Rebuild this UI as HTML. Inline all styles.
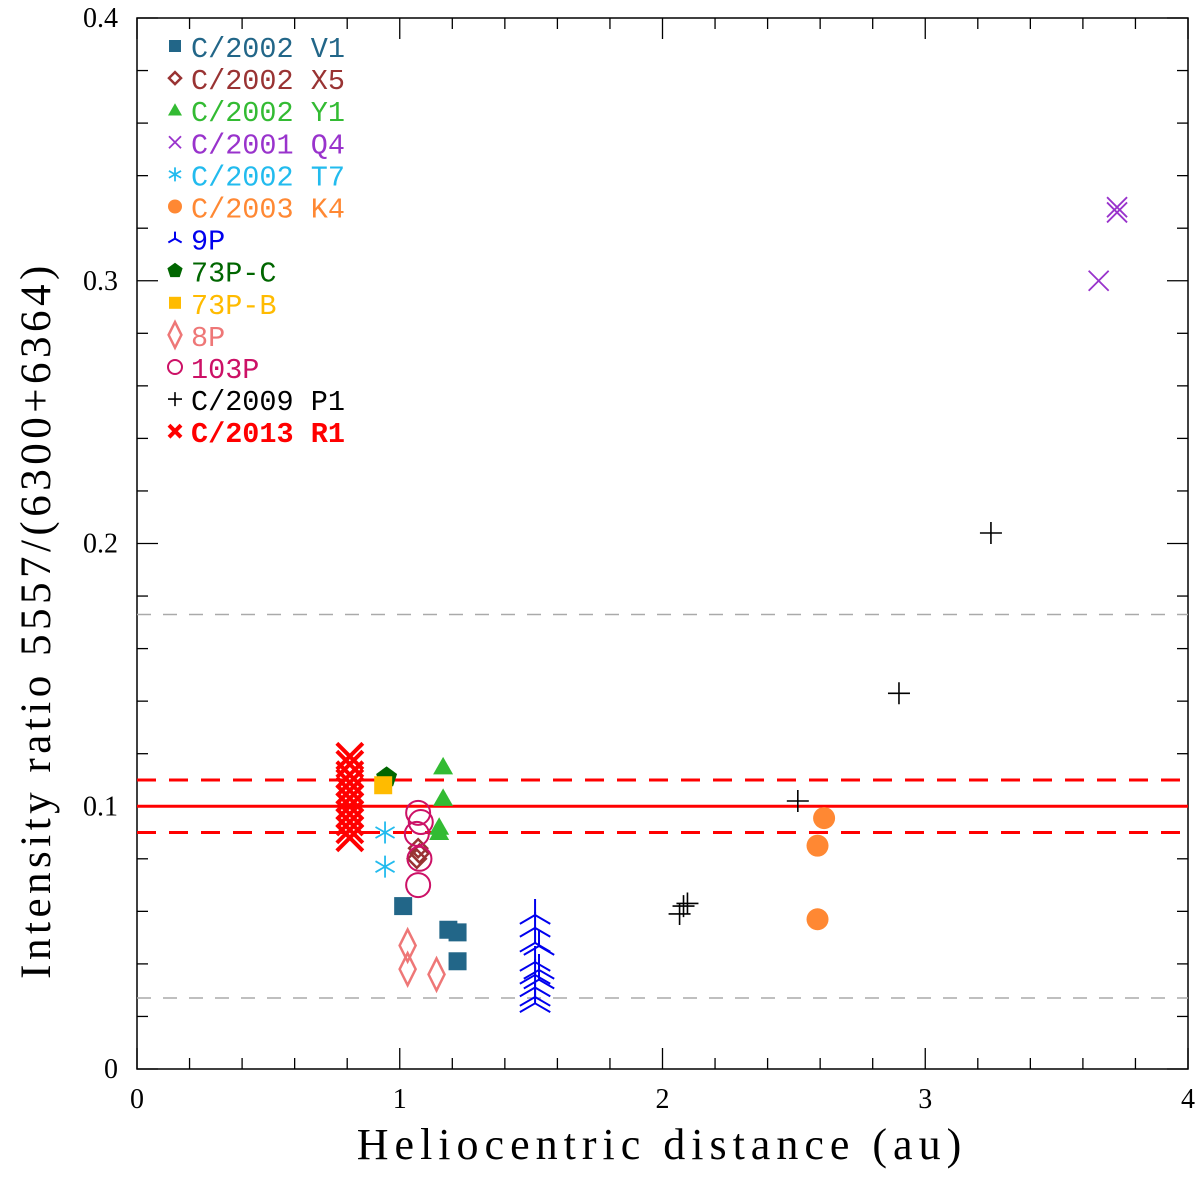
<!DOCTYPE html>
<html><head><meta charset="utf-8"><style>
html,body{margin:0;padding:0;background:#fff;}
svg{display:block;}
</style></head><body>
<svg id="chart" width="1200" height="1182" xmlns="http://www.w3.org/2000/svg"></svg>
<script>
// ---- data ----
const seriesNames = ["C/2002 V1","C/2002 X5","C/2002 Y1","C/2001 Q4","C/2002 T7","C/2003 K4","9P","73P-C","73P-B","8P","103P","C/2009 P1","C/2013 R1"];
const seriesColors = ["#226688","#993333","#33bb33","#9933cc","#22bbee","#ff8833","#0000ee","#006600","#ffbb00","#ee7777","#cc1166","#000000","#ff0000"];
const seriesMarkers = ["square","diamond","triangle","cross","asterisk","circle","tri","pentagon","square","thindiamond","ocircle","plus","bigx"];
const v1X = [1.013,1.185,1.22,1.22];            const v1Y = [0.062,0.053,0.052,0.041];
const x5X = [1.07,1.065,1.075];                 const x5Y = [0.084,0.080,0.082];
const y1X = [1.165,1.165,1.15,1.15];            const y1Y = [0.115,0.103,0.092,0.090];
const q4X = [3.66,3.73,3.73];                   const q4Y = [0.300,0.326,0.328];
const t7X = [0.944,0.944];                      const t7Y = [0.090,0.077];
const k4X = [2.615,2.59,2.59];                  const k4Y = [0.0955,0.085,0.057];
const p9X = [1.515,1.515,1.515,1.53,1.515,1.53,1.515,1.53,1.515,1.515,1.515];
const p9Y = [0.0586,0.0537,0.048,0.0468,0.0407,0.0377,0.0358,0.034,0.031,0.0274,0.025];
const p73cX = [0.95];                           const p73cY = [0.111];
const p73bX = [0.937];                          const p73bY = [0.108];
const p8X = [1.03,1.03,1.14];                   const p8Y = [0.047,0.038,0.036];
const p103X = [1.07,1.08,1.065,1.075,1.07];     const p103Y = [0.0975,0.094,0.0895,0.080,0.070];
const p1X = [2.90,3.25,2.515,2.08,2.065,2.095]; const p1Y = [0.143,0.204,0.102,0.062,0.059,0.063];
const r1X = [0.81,0.81,0.81,0.81,0.81,0.81,0.81,0.81,0.81,0.81,0.81];
const r1Y = [0.088,0.091,0.094,0.097,0.100,0.103,0.106,0.109,0.112,0.116,0.119];
const seriesX = [v1X,x5X,y1X,q4X,t7X,k4X,p9X,p73cX,p73bX,p8X,p103X,p1X,r1X];
const seriesY = [v1Y,x5Y,y1Y,q4Y,t7Y,k4Y,p9Y,p73cY,p73bY,p8Y,p103Y,p1Y,r1Y];
const xTicks = [0,1,2,3,4];
const yTicks = [0,0.1,0.2,0.3,0.4];
const yTickLabels = ["0","0.1","0.2","0.3","0.4"];
const refSolid = [0.1];
const refRedDash = [0.09,0.11];
const refGrayDash = [0.027,0.173];

// ---- axes ----
const X0=137,X1=1188,Y0=1069,Y1=18;
const xMin=0,xMax=4,yMin=0,yMax=0.4;
const sx=v=>X0+(v-xMin)/(xMax-xMin)*(X1-X0);
const sy=v=>Y0-(v-yMin)/(yMax-yMin)*(Y0-Y1);
const NS="http://www.w3.org/2000/svg";
const svg=document.getElementById('chart');
function mk(tag,attrs,parent){const e=document.createElementNS(NS,tag);for(const k in attrs)e.setAttribute(k,attrs[k]);(parent||svg).appendChild(e);return e;}

const frame=mk('rect',{x:X0,y:Y1,width:X1-X0,height:Y0-Y1,fill:'none',stroke:'#000','stroke-width':1.5});



const tg=mk('g',{stroke:'#000','stroke-width':1.3});


for(let i=0;i<=20;i++){const v=i*0.2;const x=sx(v);const L=(i%5===0)?21:11;
  mk('line',{x1:x,y1:Y0,x2:x,y2:Y0-L},tg);mk('line',{x1:x,y1:Y1,x2:x,y2:Y1+L},tg);}
for(let i=0;i<=20;i++){const v=i*0.02;const y=sy(v);const L=(i%5===0)?21:11;
  mk('line',{x1:X0,y1:y,x2:X0+L,y2:y},tg);mk('line',{x1:X1,y1:y,x2:X1-L,y2:y},tg);}

xTicks.forEach(v=>{const t=mk('text',{x:sx(v),y:Y0+39,'text-anchor':'middle','font-family':'Liberation Serif, serif','font-size':28,fill:'#000'});t.textContent=String(v);
  
  });
yTicks.forEach((v,i)=>{const t=mk('text',{x:X0-19,y:sy(v)+9,'text-anchor':'end','font-family':'Liberation Serif, serif','font-size':28,fill:'#000'});t.textContent=yTickLabels[i];
  
  });

const xt=mk('text',{x:662,y:1159,'text-anchor':'middle','font-family':'Liberation Serif, serif','font-size':44,fill:'#000','letter-spacing':'6'});
xt.textContent='Heliocentric distance (au)';


const yt=mk('text',{x:0,y:0,'text-anchor':'middle','font-family':'Liberation Serif, serif','font-size':43,fill:'#000','letter-spacing':'4.5',transform:'translate(50,620) rotate(-90)'});
yt.textContent='Intensity ratio 5557/(6300+6364)';



refGrayDash.forEach(v=>{const l=mk('line',{x1:X0,x2:X1,y1:sy(v),y2:sy(v),stroke:'#aaa','stroke-width':1.5,'stroke-dasharray':'14,12'});
  
  });
refRedDash.forEach(v=>{const l=mk('line',{x1:X0,x2:X1,y1:sy(v),y2:sy(v),stroke:'#ff0000','stroke-width':3,'stroke-dasharray':'19,13'});
  
  });
refSolid.forEach(v=>{const l=mk('line',{x1:X0,x2:X1,y1:sy(v),y2:sy(v),stroke:'#ff0000','stroke-width':3});
  
  });

function marker(type,x,y,c,s,parent){
  const g=mk('g',{},parent);
  switch(type){
    case 'square': mk('rect',{x:x-s,y:y-s,width:2*s,height:2*s,fill:c},g);break;
    case 'diamond': mk('polygon',{points:`${x},${y-s} ${x+s},${y} ${x},${y+s} ${x-s},${y}`,fill:'none',stroke:c,'stroke-width':2.5},g);break;
    case 'thindiamond': mk('polygon',{points:`${x},${y-s*1.6} ${x+s*0.8},${y} ${x},${y+s*1.6} ${x-s*0.8},${y}`,fill:'none',stroke:c,'stroke-width':2.5},g);break;
    case 'triangle': mk('polygon',{points:`${x},${y-s} ${x+s},${y+s*0.75} ${x-s},${y+s*0.75}`,fill:c},g);break;
    case 'cross': mk('path',{d:`M${x-s},${y-s}L${x+s},${y+s}M${x-s},${y+s}L${x+s},${y-s}`,stroke:c,'stroke-width':1.8},g);break;
    case 'bigx': mk('path',{d:`M${x-s},${y-s}L${x+s},${y+s}M${x-s},${y+s}L${x+s},${y-s}`,stroke:c,'stroke-width':4},g);break;
    case 'plus': mk('path',{d:`M${x-s},${y}L${x+s},${y}M${x},${y-s}L${x},${y+s}`,stroke:c,'stroke-width':1.6},g);break;
    case 'asterisk': {let d='';for(let k=0;k<3;k++){const a=Math.PI/2+k*Math.PI/3;d+=`M${x-s*Math.cos(a)},${y-s*Math.sin(a)}L${x+s*Math.cos(a)},${y+s*Math.sin(a)}`;}
      mk('path',{d,stroke:c,'stroke-width':1.8},g);break;}
    case 'circle': mk('circle',{cx:x,cy:y,r:s,fill:c},g);break;
    case 'ocircle': mk('circle',{cx:x,cy:y,r:s,fill:'none',stroke:c,'stroke-width':2},g);break;
    case 'pentagon': {let p=[];for(let k=0;k<5;k++){const a=-Math.PI/2+k*2*Math.PI/5;p.push(`${x+s*Math.cos(a)},${y+s*Math.sin(a)}`);}
      mk('polygon',{points:p.join(' '),fill:c},g);break;}
    case 'tri': mk('path',{d:`M${x},${y}L${x},${y-s}M${x},${y}L${x-s*0.95},${y+s*0.55}M${x},${y}L${x+s*0.95},${y+s*0.55}`,stroke:c,'stroke-width':2},g);break;
  }
  return g;
}
const plotSizes=[9,9,10,10,11,11,16,11,9,10,12,11,13];
seriesNames.forEach((n,i)=>{
  const sg=mk('g',{});
  
  
  seriesX[i].forEach((xv,j)=>{
    const m=marker(seriesMarkers[i],sx(xv),sy(seriesY[i][j]),seriesColors[i],plotSizes[i],sg);
    
    
  });
});

const lg=mk('g',{});


const legSizes=[6,6,7,6,7,7,7,8,6,8,7,7,6];
seriesNames.forEach((n,i)=>{
  const y=47+i*32.1;
  const e=mk('g',{},lg);
  
  
  marker(seriesMarkers[i],175,y-1,seriesColors[i],legSizes[i],e);
  const t=mk('text',{x:191,y:y+10,'font-family':'Liberation Mono, monospace','font-size':28.5,fill:seriesColors[i],'font-weight':i===12?'bold':'normal'},e);
  t.textContent=n;
});
</script>
</body></html>
